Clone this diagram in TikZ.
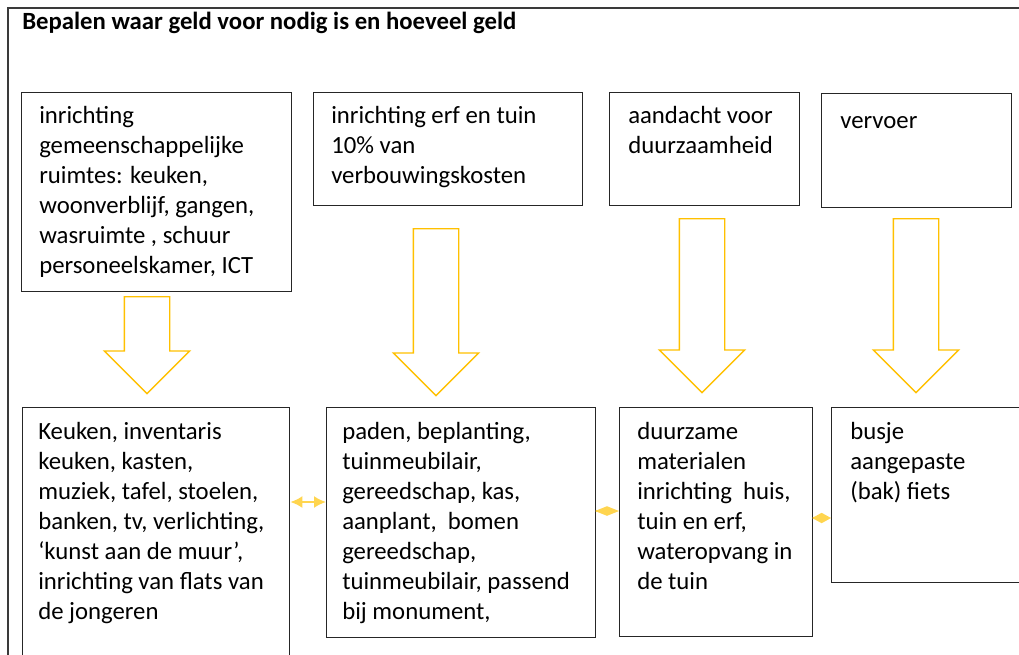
\documentclass[tikz,border=0pt]{standalone}
\usepackage{fontspec}
\setmainfont{Carlito}
\usetikzlibrary{arrows.meta,shapes.arrows}
\definecolor{boxline}{HTML}{262626}
\definecolor{frameline}{HTML}{3A3A3A}
\definecolor{gold}{HTML}{FFC000}
\definecolor{lightgold}{HTML}{FFD54F}

\begin{document}
\begin{tikzpicture}[x=0.025cm, y=-0.025cm, >=Latex,
  font=\fontsize{17.6}{21.3}\selectfont,
  box/.style 2 args={draw=boxline, line width=1pt, anchor=north west, inner sep=0pt,
    minimum width=#1*0.025cm, minimum height=#2*0.025cm},
  boxtext/.style={anchor=north west, inner sep=0pt, align=left, execute at begin node=\strut},
  blockarrow/.style={draw=gold, line width=1pt, single arrow, rotate=-90, anchor=tail,
    inner xsep=0pt, inner ysep=22*0.025cm, single arrow head extend=20*0.025cm,
    minimum width=85*0.025cm, minimum height=#1*0.025cm},
  link/.style={draw=lightgold, line width=1.3pt}]
\clip (0,0) rectangle (1019,654);
% outer frame + title
\draw[frameline, line width=1.4pt] (8,8) rectangle (1040,690);
\node[anchor=base west, inner sep=0pt, font=\fontsize{17.6}{21.3}\selectfont\bfseries] (title) at (22,29)
  {Bepalen waar geld voor nodig is en hoeveel geld};
% top row
\node[box={270}{199}] (t1) at (21,92) {};
\node[boxtext] (t1txt) at ([shift={(18,14)}]t1.north west)
  {inrichting\\gemeenschappelijke\\ruimtes: keuken,\\woonverblijf, gangen,\\wasruimte , schuur\\personeelskamer, ICT};
\node[box={269}{113}] (t2) at (313,92) {};
\node[boxtext] (t2txt) at ([shift={(18,14)}]t2.north west)
  {inrichting erf en tuin\\10\% van\\verbouwingskosten};
\node[box={190}{113}] (t3) at (609,92) {};
\node[boxtext] (t3txt) at ([shift={(19,14)}]t3.north west)
  {aandacht voor\\duurzaamheid};
\node[box={190}{114}] (t4) at (821,93) {};
\node[boxtext] (t4txt) at ([shift={(19,14)}]t4.north west) {vervoer};
% block arrows down
\node[blockarrow=97] (arr1) at (147,296) {};
\node[blockarrow=167] (arr2) at (436,228) {};
\node[blockarrow=174] (arr3) at (702,218) {};
\node[blockarrow=174] (arr4) at (916,218) {};
% bottom row
\node[box={267}{300}] (b1) at (22,407) {};
\node[boxtext] (b1txt) at ([shift={(16,15)}]b1.north west)
  {Keuken, inventaris\\keuken, kasten,\\muziek, tafel, stoelen,\\banken, tv, verlichting,\\‘kunst aan de muur’,\\inrichting van flats van\\de jongeren};
\node[box={269}{230}] (b2) at (326,407) {};
\node[boxtext] (b2txt) at ([shift={(16,15)}]b2.north west)
  {paden, beplanting,\\tuinmeubilair,\\gereedschap, kas,\\aanplant,\ \ bomen\\gereedschap,\\tuinmeubilair, passend\\bij monument,};
\node[box={193}{229}] (b3) at (619,407) {};
\node[boxtext] (b3txt) at ([shift={(18,15)}]b3.north west)
  {duurzame\\materialen\\inrichting\ \ huis,\\tuin en erf,\\wateropvang in\\de tuin};
\node[box={230}{175}] (b4) at (831,407) {};
\node[boxtext] (b4txt) at ([shift={(19,15)}]b4.north west)
  {busje\\aangepaste\\(bak) fiets};
% links between bottom boxes
\draw[link, {Latex[length=0.3cm,width=0.3cm]}-{Latex[length=0.3cm,width=0.3cm]}]
  (b1.east |- 0,502) -- (b2.west |- 0,502);
\draw[link, -{Diamond[length=0.6cm,width=0.24cm]}] (b2.east |- 0,511) -- (b3.west |- 0,511);
\draw[link, -{Diamond[length=0.47cm,width=0.26cm]}] (b3.east |- 0,518) -- (b4.west |- 0,518);
\end{tikzpicture}
\end{document}
